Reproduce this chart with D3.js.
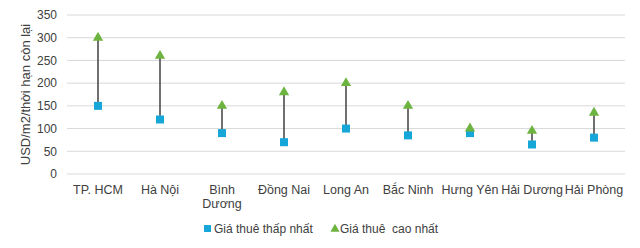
<!DOCTYPE html>
<html>
<head>
<meta charset="utf-8">
<script src="https://cdn.jsdelivr.net/npm/d3@7"></script>
<style>
  body { margin: 0; background: #fff; }
  text { font-family: "Liberation Sans", Arial, sans-serif; fill: #404040; }
</style>
</head>
<body>
<script>
const width = 640;
const height = 248;

// data
const provinces = ["TP. HCM", "Hà Nội", "Bình Dương", "Đồng Nai", "Long An", "Bắc Ninh", "Hưng Yên", "Hải Dương", "Hải Phòng"];
const lowPrice = [150, 120, 90, 70, 100, 85, 90, 65, 80];
const highPrice = [300, 260, 150, 180, 200, 150, 100, 95, 135];
const yTicks = [0, 50, 100, 150, 200, 250, 300, 350];
const seriesNames = ["Giá thuê thấp nhất", "Giá thuê  cao nhất"];

const blue = "#17a6d8";
const green = "#6db33f";

const plotLeft = 67, plotRight = 625, plotTop = 15, plotBottom = 174;

const svg = d3.select("body")
	.append("svg")
	.attr("width", width)
	.attr("height", height);

const xScale = d3.scaleBand()
	.domain(provinces)
	.range([plotLeft, plotRight]);

const yScale = d3.scaleLinear()
	.domain([0, 350])
	.range([plotBottom, plotTop]);

// gridlines
svg.append("g")
	.selectAll("line")
	.data(yTicks)
	.enter()
	.append("line")
	.attr("x1", plotLeft)
	.attr("x2", plotRight)
	.attr("y1", d => yScale(d))
	.attr("y2", d => yScale(d))
	.attr("stroke", "#d9d9d9")
	.attr("stroke-width", 1);

// y tick labels
const yAxis = svg.append("g")
	.attr("transform", `translate(${plotLeft - 10},0)`)
	.call(d3.axisLeft(yScale).tickValues(yTicks).tickSize(0).tickPadding(0));
yAxis.select(".domain").remove();
yAxis.selectAll("text")
	.style("font-size", "12px")
	.style("font-family", "'Liberation Sans', Arial, sans-serif")
	.attr("fill", "#404040");

// y title
svg.append("text")
	.attr("transform", `translate(30,${(plotTop + plotBottom) / 2}) rotate(-90)`)
	.attr("text-anchor", "middle")
	.style("font-size", "13px")
	.text("USD/m2/thời hạn còn lại");

// x labels, "Bình Dương" wraps on two lines
const xLabels = svg.append("g")
	.selectAll("text")
	.data(provinces)
	.enter()
	.append("text")
	.attr("x", d => xScale(d) + xScale.bandwidth() / 2)
	.attr("y", 194)
	.attr("text-anchor", "middle")
	.style("font-size", "12.5px");
xLabels.each(function(d) {
	const t = d3.select(this);
	if (d === "Bình Dương") {
		t.append("tspan").attr("x", t.attr("x")).attr("dy", 0).text("Bình");
		t.append("tspan").attr("x", t.attr("x")).attr("dy", 14).text("Dương");
	} else {
		t.text(d);
	}
});

const cx = (d, i) => xScale(provinces[i]) + xScale.bandwidth() / 2;

// high-low lines
svg.append("g")
	.selectAll("line")
	.data(provinces)
	.enter()
	.append("line")
	.attr("x1", cx)
	.attr("x2", cx)
	.attr("y1", (d, i) => yScale(lowPrice[i]))
	.attr("y2", (d, i) => yScale(highPrice[i]))
	.attr("stroke", "#404040")
	.attr("stroke-width", 1.5);

// low markers
svg.append("g")
	.selectAll("rect")
	.data(lowPrice)
	.enter()
	.append("rect")
	.attr("x", (d, i) => cx(d, i) - 4)
	.attr("y", d => yScale(d) - 4)
	.attr("width", 8)
	.attr("height", 8)
	.attr("fill", blue);

// high markers
const tri = d3.symbol().type(d3.symbolTriangle).size(46);
svg.append("g")
	.selectAll("path")
	.data(highPrice)
	.enter()
	.append("path")
	.attr("d", tri)
	.attr("transform", (d, i) => `translate(${cx(d, i)},${yScale(d)})`)
	.attr("fill", green);

// legend
const legend = svg.append("g");
legend.append("rect")
	.attr("x", 204)
	.attr("y", 225)
	.attr("width", 7)
	.attr("height", 7)
	.attr("fill", blue);
legend.append("text")
	.attr("x", 214)
	.attr("y", 233)
	.style("font-size", "12px")
	.style("white-space", "pre")
	.text(seriesNames[0]);
legend.append("path")
	.attr("d", d3.symbol().type(d3.symbolTriangle).size(36))
	.attr("transform", "translate(335,229)")
	.attr("fill", green);
legend.append("text")
	.attr("x", 340)
	.attr("y", 233)
	.style("font-size", "12px")
	.style("white-space", "pre")
	.text(seriesNames[1]);
</script>
</body>
</html>
